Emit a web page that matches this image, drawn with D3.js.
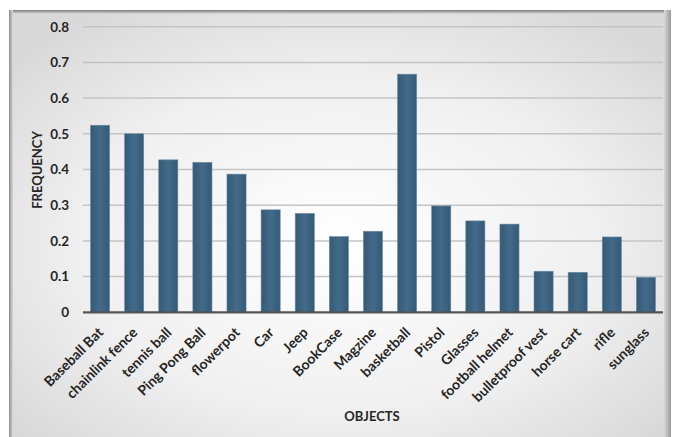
<!DOCTYPE html>
<html><head><meta charset="utf-8">
<script src="https://cdn.jsdelivr.net/npm/d3@7/dist/d3.min.js"></script>
<style>body{margin:0;background:#fff;}svg{display:block;}</style>
</head><body>
<script>
const categories = ["Baseball Bat","chainlink fence","tennis ball","Ping Pong Ball","flowerpot","Car","Jeep","BookCase","Magzine","basketball","Pistol","Glasses","football helmet","bulletproof vest","horse cart","rifle","sunglass"];
const values = [0.524,0.500,0.427,0.420,0.387,0.287,0.277,0.212,0.227,0.667,0.298,0.256,0.247,0.115,0.112,0.211,0.098];
const yTicks = [0,0.1,0.2,0.3,0.4,0.5,0.6,0.7,0.8];
const yTickLabels = ["0","0.1","0.2","0.3","0.4","0.5","0.6","0.7","0.8"];
const xTitle = "OBJECTS", yTitle = "FREQUENCY";

const W = 675, H = 437;
const svg = d3.select("body").append("svg").attr("width", W).attr("height", H);
const defs = svg.append("defs");
const bg = defs.append("radialGradient").attr("id","bg").attr("cx","50%").attr("cy","55%").attr("r","65%");
bg.append("stop").attr("offset","0%").attr("stop-color","#ffffff");
bg.append("stop").attr("offset","60%").attr("stop-color","#f0f0f0");
bg.append("stop").attr("offset","100%").attr("stop-color","#d9d9d9");
const bar = defs.append("linearGradient").attr("id","bar").attr("x1","0").attr("x2","1");
bar.append("stop").attr("offset","0%").attr("stop-color","#335a77");
bar.append("stop").attr("offset","50%").attr("stop-color","#436a88");
bar.append("stop").attr("offset","100%").attr("stop-color","#335a77");
const lft = defs.append("linearGradient").attr("id","lft").attr("x1","0").attr("x2","1");
lft.append("stop").attr("offset","0%").attr("stop-color","#8a8a8a");
lft.append("stop").attr("offset","100%").attr("stop-color","#dcdcdc");
const rgt = defs.append("linearGradient").attr("id","rgt").attr("x1","0").attr("x2","1");
rgt.append("stop").attr("offset","0%").attr("stop-color","#dadada");
rgt.append("stop").attr("offset","100%").attr("stop-color","#9a9a9a");
const tp = defs.append("linearGradient").attr("id","tp").attr("x1","0").attr("x2","0").attr("y1","0").attr("y2","1");
tp.append("stop").attr("offset","0%").attr("stop-color","#7a7a7a");
tp.append("stop").attr("offset","100%").attr("stop-color","#dedede");

// frame
svg.append("rect").attr("x",9).attr("y",10).attr("width",661).attr("height",H-10).attr("fill","url(#bg)");
svg.append("rect").attr("x",9).attr("y",10).attr("width",661).attr("height",4).attr("fill","url(#tp)");
svg.append("rect").attr("x",9).attr("y",10).attr("width",4).attr("height",H-10).attr("fill","url(#lft)");
svg.append("rect").attr("x",664).attr("y",10).attr("width",7).attr("height",H-10).attr("fill","url(#rgt)");

const m = {l:83, r:663, t:26.7, b:312.3};
const x = d3.scaleBand().domain(categories).range([m.l, m.r]).paddingInner(0.44).paddingOuter(0.22);
const y = d3.scaleLinear().domain([0,0.8]).range([m.b, m.t]);

// grid
svg.append("g").selectAll("line").data(yTicks.slice(1)).join("line")
  .attr("x1", m.l).attr("x2", m.r).attr("y1", d=>y(d)).attr("y2", d=>y(d))
  .attr("stroke","#c4c4c4").attr("stroke-width",1.5);

// y axis labels
const yAxis = d3.axisLeft(y).tickValues(yTicks).tickFormat((d,i)=>yTickLabels[i]).tickSize(0).tickPadding(14);
const gy = svg.append("g").attr("transform",`translate(${m.l},0)`).call(yAxis);
gy.select(".domain").remove();
gy.selectAll("text").attr("font-family","Lato, 'Open Sans', sans-serif").attr("font-weight","bold").attr("font-size","13.5px").attr("fill","#262626");

// bars
svg.append("g").selectAll("rect").data(values).join("rect")
  .attr("x",(d,i)=>x(categories[i])).attr("width",x.bandwidth())
  .attr("y",d=>y(d)).attr("height",d=>y(0)-y(d))
  .attr("fill","url(#bar)").attr("stroke","#6d8ba3").attr("stroke-width",0.6);

// x axis
const xAxis = d3.axisBottom(x).tickSize(0).tickPadding(8);
const gx = svg.append("g").attr("transform",`translate(0,${m.b})`).call(xAxis);
gx.select(".domain").attr("stroke","#555").attr("stroke-width",2.2).attr("d",`M${m.l},0H${m.r}`);
gx.selectAll("text").attr("font-family","Lato, 'Open Sans', sans-serif").attr("font-weight","bold").attr("font-size","14px").attr("fill","#262626")
  .attr("text-anchor","end").attr("dy","0.35em")
  .attr("transform","translate(-5,12) rotate(-45)");

// titles
svg.append("text").attr("x",372).attr("y",421).attr("text-anchor","middle")
  .attr("font-family","Lato, 'Open Sans', sans-serif").attr("font-weight","bold").attr("font-size","13px").attr("fill","#262626").text(xTitle);
svg.append("text").attr("transform","translate(42,170) rotate(-90)").attr("text-anchor","middle")
  .attr("font-family","Lato, 'Open Sans', sans-serif").attr("font-weight","bold").attr("font-size","13px").attr("fill","#262626").text(yTitle);
</script>
</body></html>
